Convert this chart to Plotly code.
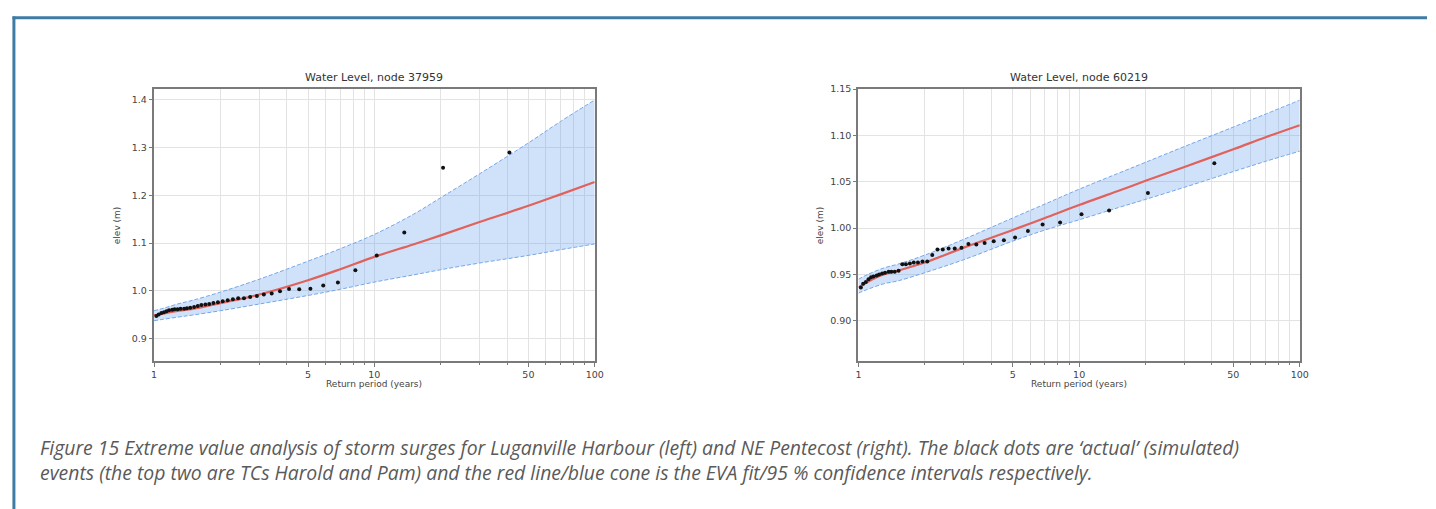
import plotly.graph_objects as go

# ---------------- data ----------------
# Return periods of the simulated events (rank 1 .. 40)
event_T = [41.0, 20.5, 13.67, 10.25, 8.2, 6.83, 5.86, 5.125, 4.56, 4.1,
           3.73, 3.42, 3.15, 2.93, 2.73, 2.56, 2.41, 2.28, 2.16, 2.05,
           1.95, 1.86, 1.78, 1.71, 1.64, 1.58, 1.52, 1.46, 1.41, 1.37,
           1.32, 1.28, 1.24, 1.21, 1.17, 1.14, 1.11, 1.08, 1.05, 1.025]

left_events = [1.290, 1.258, 1.122, 1.074, 1.043, 1.017, 1.011, 1.004, 1.003, 1.0035,
               0.999, 0.994, 0.992, 0.989, 0.987, 0.984, 0.984, 0.982, 0.980, 0.978,
               0.976, 0.974, 0.972, 0.971, 0.970, 0.968, 0.966, 0.964, 0.963, 0.962,
               0.962, 0.961, 0.961, 0.960, 0.959, 0.957, 0.955, 0.953, 0.950, 0.947]

right_events = [1.070, 1.038, 1.019, 1.015, 1.006, 1.004, 0.997, 0.990, 0.987, 0.986,
                0.984, 0.9825, 0.983, 0.979, 0.978, 0.978, 0.977, 0.977, 0.971, 0.964,
                0.964, 0.963, 0.963, 0.962, 0.961, 0.961, 0.954, 0.953, 0.953, 0.953,
                0.952, 0.951, 0.950, 0.949, 0.948, 0.947, 0.945, 0.942, 0.940, 0.936]

fit_T = [1.0, 1.1, 1.3, 1.5, 2, 3, 5, 7, 10, 15, 20, 30, 50, 70, 100]

left_fit =   [0.948, 0.952, 0.958, 0.962, 0.974, 0.992, 1.022, 1.045, 1.071, 1.097, 1.116, 1.144, 1.178, 1.202, 1.228]
left_upper = [0.958, 0.963, 0.973, 0.980, 0.997, 1.024, 1.062, 1.088, 1.118, 1.160, 1.195, 1.245, 1.310, 1.355, 1.400]
left_lower = [0.937, 0.940, 0.945, 0.949, 0.958, 0.972, 0.990, 1.003, 1.018, 1.033, 1.044, 1.058, 1.074, 1.086, 1.098]

right_fit =   [0.936, 0.942, 0.950, 0.954, 0.963, 0.979, 0.998, 1.011, 1.025, 1.040, 1.051, 1.066, 1.085, 1.098, 1.111]
right_upper = [0.945, 0.950, 0.957, 0.961, 0.971, 0.988, 1.011, 1.026, 1.042, 1.059, 1.071, 1.088, 1.109, 1.123, 1.138]
right_lower = [0.930, 0.934, 0.940, 0.943, 0.952, 0.966, 0.986, 0.998, 1.009, 1.022, 1.031, 1.044, 1.061, 1.072, 1.083]

x_tickvals = [1, 5, 10, 50, 100]
x_ticktext = ["1", "5", "10", "50", "100"]
x_minor = [2, 3, 4, 6, 7, 8, 9, 20, 30, 40, 60, 70, 80, 90]

left_yticks = [0.9, 1.0, 1.1, 1.2, 1.3, 1.4]
left_yticktext = ["0.9", "1.0", "1.1", "1.2", "1.3", "1.4"]
right_yticks = [0.90, 0.95, 1.00, 1.05, 1.10, 1.15]
right_yticktext = ["0.90", "0.95", "1.00", "1.05", "1.10", "1.15"]

titles = ["Water Level, node 37959", "Water Level, node 60219"]
xlabel = "Return period (years)"
ylabel = "elev (m)"
caption1 = ("Figure 15 Extreme value analysis of storm surges for Luganville Harbour (left) and NE Pentecost (right). "
            "The black dots are \u2018actual\u2019 (simulated)")
caption2 = ("events (the top two are TCs Harold and Pam) and the red line/blue cone is the EVA fit/95 % "
            "confidence intervals respectively.")

# ---------------- style ----------------
W, H = 1436, 509
BAND_FILL = "rgba(100,160,240,0.30)"
BAND_LINE = "#74a6ea"
FIT_COLOR = "#e0625c"
GRID = "#e3e3e3"
FRAME = "#7a7a7a"
TICKFONT = dict(family="DejaVu Sans", size=9.5, color="#444444")

fig = go.Figure()

def add_panel(xa, ya, lower, upper, fit, events):
    fig.add_trace(go.Scatter(x=fit_T, y=lower, xaxis=xa, yaxis=ya, mode="lines",
                             line=dict(color=BAND_LINE, width=1, dash="4px,2px", shape="spline"),
                             showlegend=False, hoverinfo="skip"))
    fig.add_trace(go.Scatter(x=fit_T, y=upper, xaxis=xa, yaxis=ya, mode="lines",
                             line=dict(color=BAND_LINE, width=1, dash="4px,2px", shape="spline"),
                             fill="tonexty", fillcolor=BAND_FILL,
                             showlegend=False, hoverinfo="skip"))
    fig.add_trace(go.Scatter(x=fit_T, y=fit, xaxis=xa, yaxis=ya, mode="lines",
                             line=dict(color=FIT_COLOR, width=2.2, shape="spline"),
                             showlegend=False))
    fig.add_trace(go.Scatter(x=event_T, y=events, xaxis=xa, yaxis=ya, mode="markers",
                             marker=dict(color="#111111", size=4),
                             showlegend=False))

add_panel("x", "y", left_lower, left_upper, left_fit, left_events)
add_panel("x2", "y2", right_lower, right_upper, right_fit, right_events)

def px_x(p):
    return p / W

def px_y(p):
    return 1 - p / H

top, bottom = 84, 359.5
ydom = [px_y(bottom), px_y(top)]
left_dom = [px_x(152.3), px_x(596.7)]
right_dom = [px_x(862.7), px_x(1307.7)]

xcommon = dict(type="log", range=[0, 2], tickvals=x_tickvals, ticktext=x_ticktext,
               showgrid=True, gridcolor=GRID, gridwidth=1,
               minor=dict(tickvals=x_minor, showgrid=True, gridcolor=GRID, gridwidth=1,
                          ticks="outside", ticklen=2, tickcolor=FRAME),
               ticks="outside", ticklen=3.5, tickcolor=FRAME,
               showline=True, mirror=True, linecolor=FRAME, linewidth=1.6,
               zeroline=False, tickfont=TICKFONT)
ycommon = dict(showgrid=True, gridcolor=GRID, gridwidth=1,
               ticks="outside", ticklen=3.5, tickcolor=FRAME,
               showline=True, mirror=True, linecolor=FRAME, linewidth=1.6,
               zeroline=False, tickfont=TICKFONT)

fig.update_layout(
    width=W, height=H, autosize=False,
    margin=dict(l=0, r=0, t=0, b=0),
    paper_bgcolor="white", plot_bgcolor="white",
    xaxis=dict(domain=left_dom, anchor="y", **xcommon),
    yaxis=dict(domain=ydom, anchor="x", range=[0.852, 1.423],
               tickvals=left_yticks, ticktext=left_yticktext, **ycommon),
    xaxis2=dict(domain=right_dom, anchor="y2", **xcommon),
    yaxis2=dict(domain=ydom, anchor="x2", range=[0.8565, 1.15],
                tickvals=right_yticks, ticktext=right_yticktext, **ycommon),
)

ann = []
for dom, title, ylab_x in [(left_dom, titles[0], 115), (right_dom, titles[1], 824)]:
    cx = (dom[0] + dom[1]) / 2
    ann.append(dict(x=cx, y=px_y(72), xref="paper", yref="paper", text=title, showarrow=False,
                    xanchor="center", yanchor="middle",
                    font=dict(family="DejaVu Sans", size=11, color="#333333")))
    ann.append(dict(x=cx, y=px_y(383), xref="paper", yref="paper", text=xlabel, showarrow=False,
                    xanchor="center", yanchor="middle",
                    font=dict(family="DejaVu Sans", size=9, color="#444444")))
    ann.append(dict(x=px_x(ylab_x), y=px_y((top + bottom) / 2), xref="paper", yref="paper",
                    text=ylabel, showarrow=False, textangle=-90,
                    xanchor="center", yanchor="middle",
                    font=dict(family="DejaVu Sans", size=9, color="#444444")))

for txt, ypx in [(caption1, 447), (caption2, 472)]:
    ann.append(dict(x=px_x(35), y=px_y(ypx), xref="paper", yref="paper", text="<i>" + txt + "</i>",
                    showarrow=False, xanchor="left", yanchor="middle",
                    font=dict(family="Open Sans", size=19.4, color="#5a5a5a")))

fig.update_layout(annotations=ann)

# blue frame (top and left edges)
fig.add_shape(type="line", xref="paper", yref="paper", x0=px_x(9.5), x1=1.0,
              y0=px_y(12), y1=px_y(12), line=dict(color="#3f7ca5", width=3))
fig.add_shape(type="line", xref="paper", yref="paper", x0=px_x(11), x1=px_x(11),
              y0=px_y(10.5), y1=0, line=dict(color="#3f7ca5", width=3))

fig.write_html("out.html")
